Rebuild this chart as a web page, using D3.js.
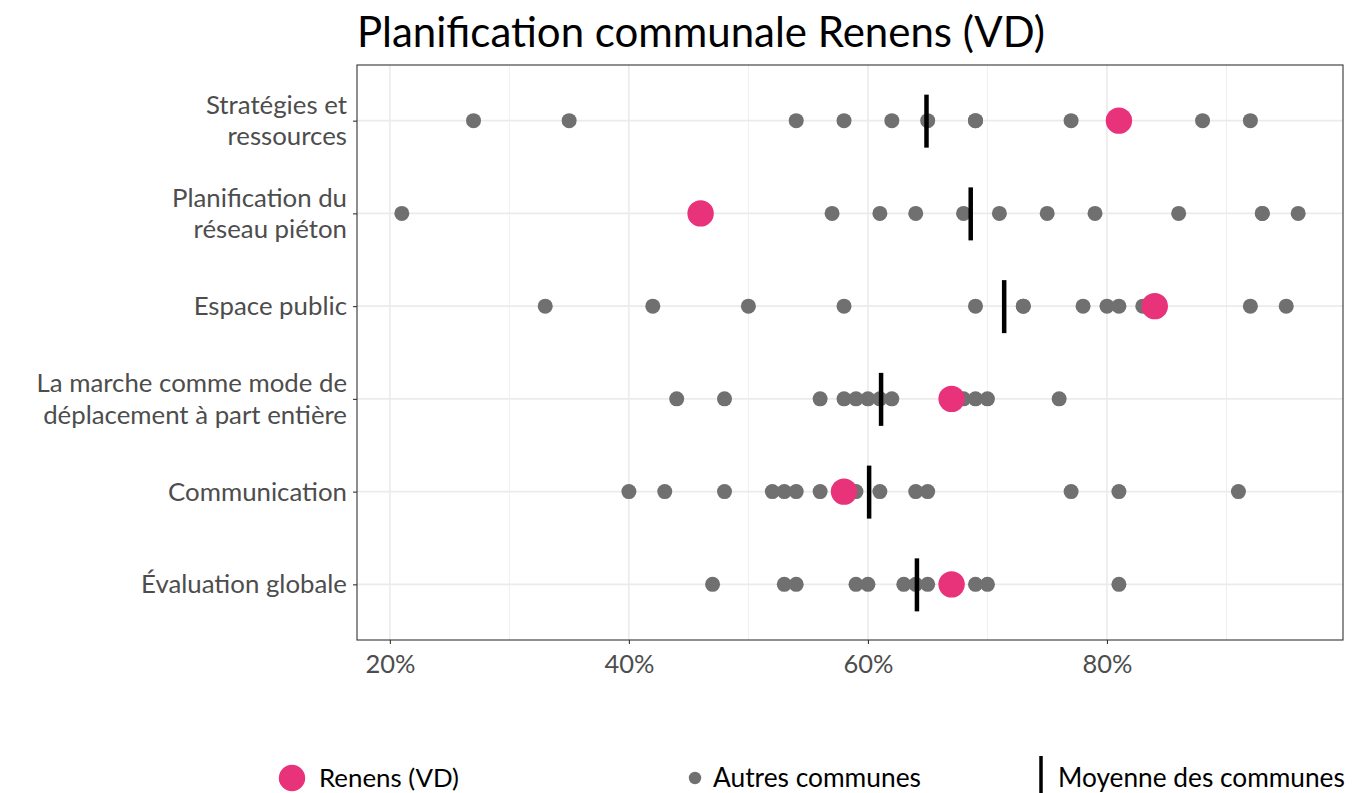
<!DOCTYPE html>
<html>
<head>
<meta charset="utf-8">
<script src="https://cdn.jsdelivr.net/npm/d3@7"></script>
<style>
  body { margin: 0; background: #fff; }
  svg { display: block; }
</style>
</head>
<body>
<svg id="chart" width="1361" height="793"></svg>
<script>
// ---- data ----
const categories = [
  "Stratégies et ressources",
  "Planification du réseau piéton",
  "Espace public",
  "La marche comme mode de déplacement à part entière",
  "Communication",
  "Évaluation globale"
];
const categoryLines = [
  ["Stratégies et", "ressources"],
  ["Planification du", "réseau piéton"],
  ["Espace public"],
  ["La marche comme mode de", "déplacement à part entière"],
  ["Communication"],
  ["Évaluation globale"]
];
const otherCommunes = [
  [27, 35, 54, 58, 62, 65, 69, 69, 77, 88, 92],
  [21, 57, 61, 64, 68, 71, 75, 79, 86, 93, 93, 96],
  [33, 42, 50, 58, 69, 73, 73, 78, 80, 81, 83, 92, 95],
  [44, 48, 56, 58, 59, 60, 61, 62, 68, 69, 70, 76],
  [40, 43, 48, 52, 53, 54, 56, 59, 61, 64, 65, 77, 81, 91],
  [47, 53, 54, 59, 60, 63, 64, 65, 69, 70, 81]
];
const renensValues = [81, 46, 84, 67, 58, 67];
const meanValues = [64.9, 68.6, 71.4, 61.1, 60.1, 64.1];
const xTicks = [20, 40, 60, 80];
const xMinorTicks = [30, 50, 70, 90];
const legendLabels = ["Renens (VD)", "Autres communes", "Moyenne des communes"];
const titleText = "Planification communale Renens (VD)";

// ---- layout ----
const svg = d3.select("#chart");
const panel = { left: 357, right: 1343, top: 65, bottom: 640 };
const pink = "#E8327A", grey = "#707070", textGrey = "#4d4d4d";

const x = d3.scaleLinear().domain([17.25, 99.75]).range([panel.left, panel.right]);
const y = d3.scalePoint().domain(categories).range([panel.top, panel.bottom]).padding(0.6);

function fit(sel, target) {
  const node = sel.node();
  const fs = parseFloat(sel.attr("font-size"));
  const w = node.getComputedTextLength();
  sel.attr("font-size", fs * target / w);
}

// grid
const g = svg.append("g");
g.selectAll(".minor").data(xMinorTicks).join("line")
  .attr("x1", d => x(d)).attr("x2", d => x(d))
  .attr("y1", panel.top).attr("y2", panel.bottom)
  .attr("stroke", "#ebebeb").attr("stroke-width", 0.8);
g.selectAll(".major").data(xTicks).join("line")
  .attr("x1", d => x(d)).attr("x2", d => x(d))
  .attr("y1", panel.top).attr("y2", panel.bottom)
  .attr("stroke", "#ebebeb").attr("stroke-width", 1.6);
g.selectAll(".hmajor").data(categories).join("line")
  .attr("x1", panel.left).attr("x2", panel.right)
  .attr("y1", d => y(d)).attr("y2", d => y(d))
  .attr("stroke", "#ebebeb").attr("stroke-width", 1.6);

// other communes
categories.forEach((c, i) => {
  g.append("g").selectAll("circle").data(otherCommunes[i]).join("circle")
    .attr("cx", d => x(d)).attr("cy", y(c)).attr("r", 7.5)
    .attr("fill", grey);
});
// means
g.selectAll(".mean").data(meanValues).join("line")
  .attr("x1", d => x(d)).attr("x2", d => x(d))
  .attr("y1", (d, i) => y(categories[i]) - 26)
  .attr("y2", (d, i) => y(categories[i]) + 27)
  .attr("stroke", "#000").attr("stroke-width", 4.5);
// Renens
g.selectAll(".renens").data(renensValues).join("circle")
  .attr("cx", d => x(d)).attr("cy", (d, i) => y(categories[i])).attr("r", 13.2)
  .attr("fill", pink);

// panel border
svg.append("rect")
  .attr("x", panel.left).attr("y", panel.top)
  .attr("width", panel.right - panel.left).attr("height", panel.bottom - panel.top)
  .attr("fill", "none").attr("stroke", "#333").attr("stroke-width", 1.1);

// x axis
const xAxis = svg.append("g")
  .attr("transform", `translate(0,${panel.bottom})`)
  .call(d3.axisBottom(x).tickValues(xTicks).tickFormat(d => d + "%").tickSize(4).tickPadding(5));
xAxis.select(".domain").remove();
xAxis.selectAll(".tick line").attr("stroke", "#333").attr("stroke-width", 1.1);
xAxis.selectAll(".tick text")
  .attr("font-family", "Lato, sans-serif").attr("font-size", 22).attr("fill", textGrey)
  .attr("dy", "0.95em")
  .each(function () { fit(d3.select(this), 50); });

// y axis
const yAxis = svg.append("g")
  .attr("transform", `translate(${panel.left},0)`)
  .call(d3.axisLeft(y).tickSize(4).tickFormat(""));
yAxis.select(".domain").remove();
yAxis.selectAll(".tick line").attr("stroke", "#333").attr("stroke-width", 1.1);

const labelSize = 25.8;
const lineGap = 31.5;
categories.forEach((c, i) => {
  const lines = categoryLines[i];
  lines.forEach((ln, j) => {
    const off = (j - (lines.length - 1) / 2) * lineGap;
    svg.append("text")
      .attr("text-anchor", "end")
      .attr("font-family", "Lato, sans-serif")
      .attr("font-size", labelSize)
      .attr("fill", textGrey)
      .attr("x", 347).attr("y", y(c) + off).attr("dy", "0.35em").text(ln);
  });
});

// title
const title = svg.append("text")
  .attr("x", panel.left).attr("y", 47)
  .attr("font-family", "Lato, sans-serif").attr("font-size", 38).attr("fill", "#000")
  .text(titleText);
fit(title, 688);

// legend
const ly = 778;
svg.append("circle").attr("cx", 292).attr("cy", ly).attr("r", 13.2).attr("fill", pink);
svg.append("circle").attr("cx", 695).attr("cy", ly).attr("r", 6.2).attr("fill", grey);
svg.append("line").attr("x1", 1041).attr("x2", 1041).attr("y1", 756).attr("y2", 793)
  .attr("stroke", "#000").attr("stroke-width", 3.5);
const legX = [319, 713, 1058];
const legW = [140, 208, 287];
legendLabels.forEach((lab, i) => {
  const t = svg.append("text").attr("x", legX[i]).attr("y", ly).attr("dy", "0.35em")
    .attr("font-family", "Lato, sans-serif").attr("font-size", 22).attr("fill", "#000")
    .text(lab);
  fit(t, legW[i]);
});
</script>
</body>
</html>
